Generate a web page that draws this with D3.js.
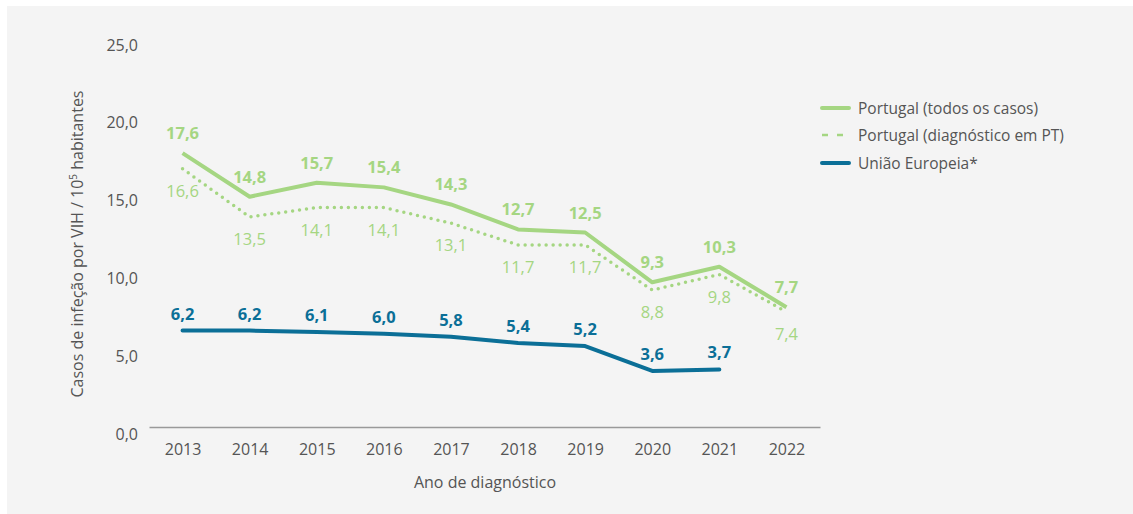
<!DOCTYPE html>
<html>
<head>
<meta charset="utf-8">
<script src="https://cdn.jsdelivr.net/npm/d3@7"></script>
<style>
  body { margin: 0; background: #fff; }
  text { font-family: "Open Sans", sans-serif; }
</style>
</head>
<body>
<svg id="chart" width="1133" height="514"></svg>
<script>
var years = [2013, 2014, 2015, 2016, 2017, 2018, 2019, 2020, 2021, 2022];
var ptAll = [17.6, 14.8, 15.7, 15.4, 14.3, 12.7, 12.5, 9.3, 10.3, 7.7];
var ptDiag = [16.6, 13.5, 14.1, 14.1, 13.1, 11.7, 11.7, 8.8, 9.8, 7.4];
var euVals = [6.2, 6.2, 6.1, 6.0, 5.8, 5.4, 5.2, 3.6, 3.7, null];
var yTicks = [0, 5, 10, 15, 20, 25];
var legendLabels = ["Portugal (todos os casos)", "Portugal (diagnóstico em PT)", "União Europeia*"];

var green = "#a5d682", blue = "#0b6f97", grey = "#555";
var fmt = function(v) { return v.toFixed(1).replace(".", ","); };

var svg = d3.select("#chart");
svg.append("rect").attr("x", 7).attr("y", 6).attr("width", 1126).attr("height", 508).attr("fill", "#f4f4f4");

var x = d3.scalePoint().domain(years).range([149, 820]).padding(0.5);
var y = d3.scaleLinear().domain([0, 25]).range([427, 38]);

// y axis labels (no line)
svg.append("g").selectAll("text").data(yTicks).join("text")
  .attr("x", 138).attr("y", d => y(d) + 12.5)
  .attr("text-anchor", "end").attr("font-size", 16).attr("fill", grey)
  .text(fmt);

// x axis
var xAxis = svg.append("g").attr("transform", "translate(0,427)")
  .call(d3.axisBottom(x).tickSize(0).tickPadding(17));
xAxis.select(".domain").attr("stroke", "#999").attr("stroke-width", 1.5);
xAxis.selectAll("text").attr("font-size", 16).attr("fill", grey).attr("font-family", "Open Sans");

svg.append("text").attr("x", 485).attr("y", 488).attr("text-anchor", "middle")
  .attr("font-size", 16).attr("fill", grey).text("Ano de diagnóstico");

var yt = svg.append("text").attr("transform", "translate(83,244) rotate(-90)")
  .attr("text-anchor", "middle").attr("font-size", 16).attr("fill", grey);
yt.append("tspan").text("Casos de infeção por VIH / 10");
yt.append("tspan").attr("font-size", 10).attr("dy", -6).text("5");
yt.append("tspan").attr("dy", 6).text(" habitantes");

var line = d3.line().defined(d => d[1] != null).x(d => x(d[0])).y(d => y(d[1]));
function pairs(vals) { return years.map((yr, i) => [yr, vals[i]]); }

svg.append("path").datum(pairs(ptDiag)).attr("d", line).attr("fill", "none")
  .attr("stroke", green).attr("stroke-width", 3.5).attr("stroke-linecap", "round")
  .attr("stroke-dasharray", "0 7");
svg.append("path").datum(pairs(ptAll)).attr("d", line).attr("fill", "none")
  .attr("stroke", green).attr("stroke-width", 4).attr("stroke-linejoin", "round");
svg.append("path").datum(pairs(euVals).filter(d => d[1] != null)).attr("d", line).attr("fill", "none")
  .attr("stroke", blue).attr("stroke-width", 4).attr("stroke-linecap", "round").attr("stroke-linejoin", "round");

// value labels
svg.append("g").selectAll("text").data(pairs(ptAll)).join("text")
  .attr("x", d => x(d[0])).attr("y", d => y(d[1]) - 14)
  .attr("text-anchor", "middle").attr("font-size", 16.5).attr("font-weight", "bold").attr("fill", green)
  .text(d => fmt(d[1]));
svg.append("g").selectAll("text").data(pairs(ptDiag)).join("text")
  .attr("x", d => x(d[0])).attr("y", d => y(d[1]) + 28)
  .attr("text-anchor", "middle").attr("font-size", 16.5).attr("fill", green)
  .text(d => fmt(d[1]));
svg.append("g").selectAll("text").data(pairs(euVals).filter(d => d[1] != null)).join("text")
  .attr("x", d => x(d[0])).attr("y", d => y(d[1]) - 11)
  .attr("text-anchor", "middle").attr("font-size", 16.5).attr("font-weight", "bold").attr("fill", blue)
  .text(d => fmt(d[1]));

// legend
var legY = [108, 135, 163];
var leg = svg.append("g").selectAll("g").data(legendLabels).join("g")
  .attr("transform", (d, i) => "translate(822," + legY[i] + ")");
leg.append("line").attr("x1", 0).attr("x2", 27).attr("y1", 0).attr("y2", 0)
  .attr("stroke", (d, i) => i == 2 ? blue : green)
  .attr("stroke-width", (d, i) => i == 1 ? 2.5 : 4)
  .attr("stroke-linecap", (d, i) => i == 1 ? "butt" : "round")
  .attr("stroke-dasharray", (d, i) => i == 1 ? "6 9" : null);
leg.append("text").attr("x", 36).attr("y", 5.5).attr("font-size", 15.5).attr("fill", grey).text(d => d);
</script>
</body>
</html>
